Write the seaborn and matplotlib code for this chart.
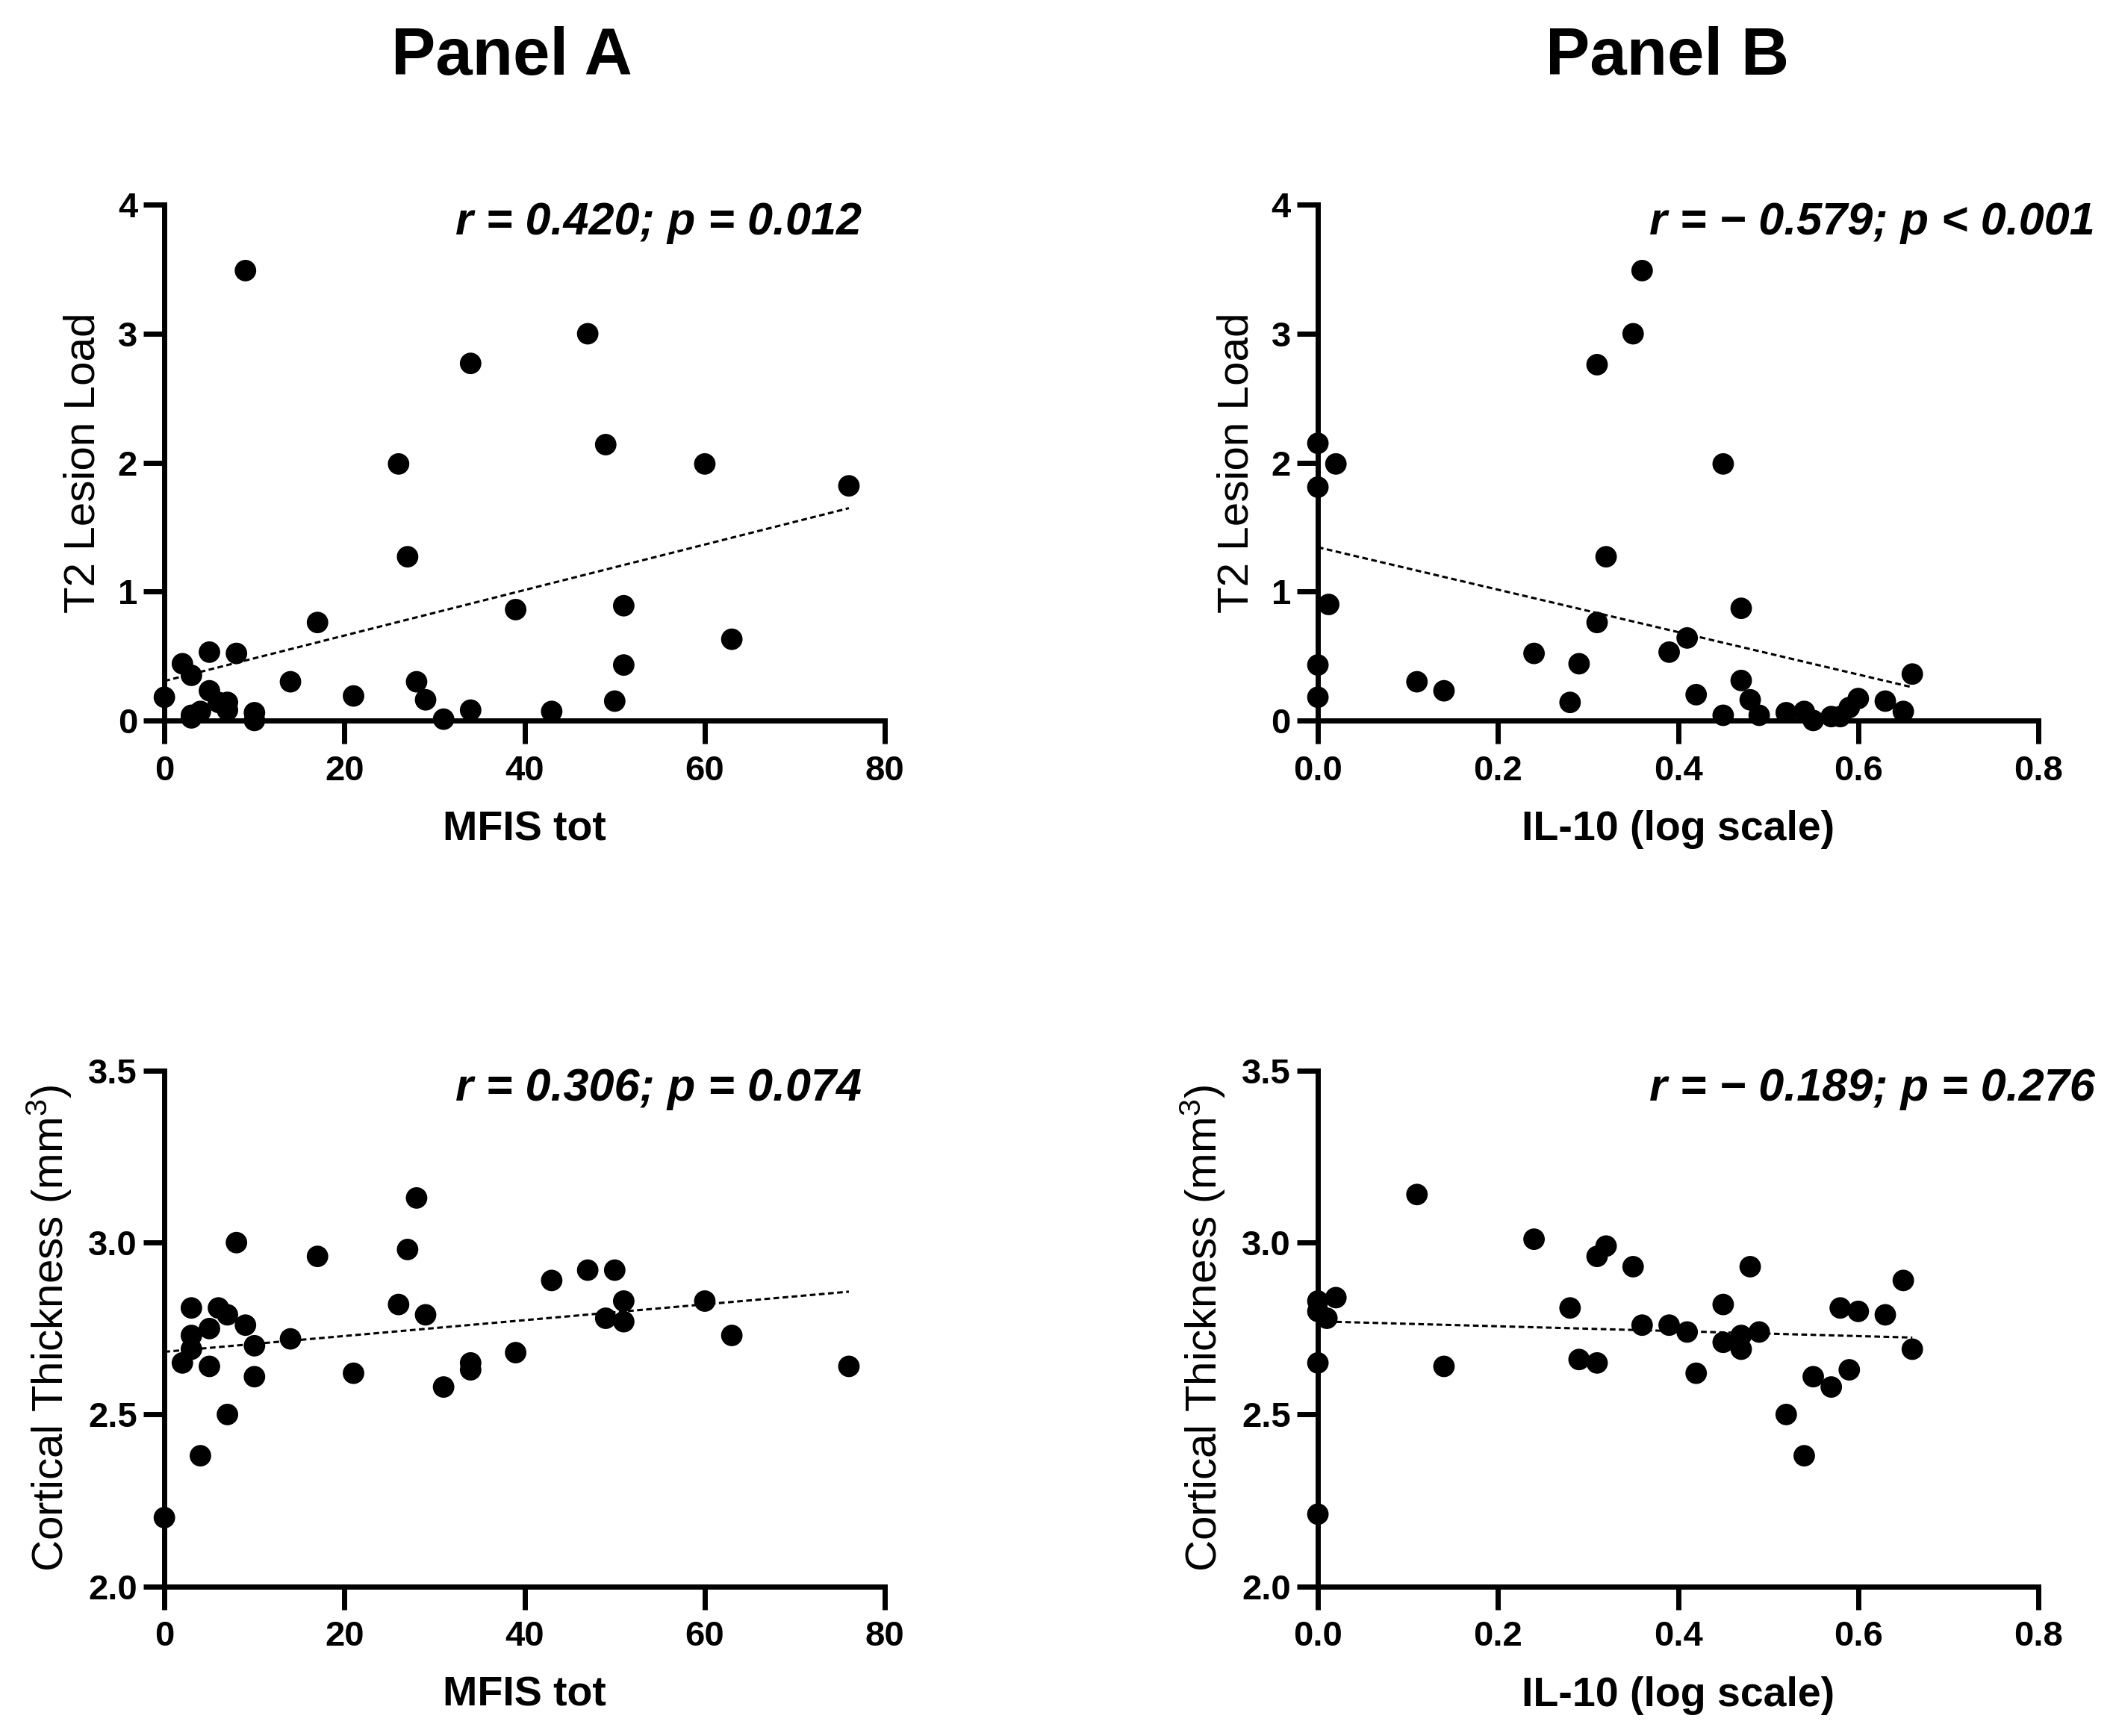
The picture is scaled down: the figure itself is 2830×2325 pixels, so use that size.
import numpy as np
import pandas as pd
import matplotlib
matplotlib.use('Agg')
import matplotlib.pyplot as plt
import seaborn as sns

# Panel A: MFIS tot vs T2 lesion load / cortical thickness
mfis_top = [0, 2, 3, 3, 3, 4, 5, 5, 6, 7, 7, 8, 9, 10, 10, 14, 17, 21, 26, 27,
            28, 29, 31, 34, 34, 39, 43, 47, 49, 50, 51, 51, 60, 63, 76]
t2_a = [0.18, 0.44, 0.35, 0.02, 0.04, 0.07, 0.53, 0.23, 0.14, 0.14, 0.08, 0.52, 3.49, 0.06, 0.0,
        0.30, 0.76, 0.19, 1.99, 1.27, 0.30, 0.16, 0.01, 2.77, 0.08, 0.86, 0.07, 3.0, 2.14, 0.15,
        0.89, 0.43, 1.99, 0.63, 1.82]

mfis_bot = [0, 2, 3, 3, 3, 4, 5, 5, 6, 7, 7, 8, 9, 10, 10, 14, 17, 21, 26, 27,
            28, 29, 31, 34, 34, 39, 43, 47, 49, 50, 51, 51, 60, 63, 76]
ct_a = [2.20, 2.65, 2.81, 2.73, 2.69, 2.38, 2.64, 2.75, 2.81, 2.79, 2.50, 3.00, 2.76, 2.70, 2.61,
        2.72, 2.96, 2.62, 2.82, 2.98, 3.13, 2.79, 2.58, 2.65, 2.63, 2.68, 2.89, 2.92, 2.78, 2.92,
        2.83, 2.77, 2.83, 2.73, 2.64]

# Panel B: IL-10 (log) vs T2 lesion load / cortical thickness
il10_top = [0.0, 0.0, 0.02, 0.012, 0.0, 0.0, 0.11, 0.14, 0.24, 0.28, 0.29, 0.31, 0.31, 0.32,
            0.35, 0.36, 0.39, 0.41, 0.42, 0.45, 0.45, 0.47, 0.47, 0.48, 0.49, 0.52, 0.54, 0.55,
            0.57, 0.58, 0.59, 0.60, 0.63, 0.65, 0.66]
t2_b = [2.15, 1.81, 1.99, 0.90, 0.43, 0.18, 0.30, 0.23, 0.52, 0.14, 0.44, 2.76, 0.76, 1.27,
        3.0, 3.49, 0.53, 0.64, 0.20, 1.99, 0.04, 0.87, 0.31, 0.16, 0.04, 0.06, 0.07, 0.0,
        0.03, 0.03, 0.10, 0.17, 0.15, 0.07, 0.36]

il10_bot = [0.0, 0.0, 0.0, 0.0, 0.01, 0.02, 0.11, 0.14, 0.24, 0.28, 0.29, 0.31, 0.31, 0.32,
            0.35, 0.36, 0.39, 0.41, 0.42, 0.45, 0.45, 0.47, 0.47, 0.48, 0.49, 0.52, 0.54, 0.55,
            0.57, 0.58, 0.59, 0.60, 0.63, 0.65, 0.66]
ct_b = [2.21, 2.65, 2.83, 2.80, 2.78, 2.84, 3.14, 2.64, 3.01, 2.81, 2.66, 2.65, 2.96, 2.99,
        2.93, 2.76, 2.76, 2.74, 2.62, 2.82, 2.71, 2.73, 2.69, 2.93, 2.74, 2.50, 2.38, 2.61,
        2.58, 2.81, 2.63, 2.80, 2.79, 2.89, 2.69]

stats = ['r = 0.420; p = 0.012', 'r = \u2212 0.579; p < 0.001',
         'r = 0.306; p = 0.074', 'r = \u2212 0.189; p = 0.276']

sns.set_style('ticks')
plt.rcParams['font.family'] = ['Liberation Sans', 'DejaVu Sans']
plt.rcParams['mathtext.default'] = 'regular'
for k in ['text.color', 'axes.labelcolor', 'xtick.color', 'ytick.color', 'axes.edgecolor']:
    plt.rcParams[k] = 'black'

fig = plt.figure(figsize=(28.3, 23.25), dpi=100)

W, H = 0.341, 0.297
positions = [(0.0778, 0.585), (0.6237, 0.585), (0.0778, 0.0862), (0.6237, 0.0862)]
panels = [
    (mfis_top, t2_a, 'MFIS tot', 'T2 Lesion Load', (0, 80, 20), (0, 4, 1), '{:.0f}', '{:.0f}', 0.968),
    (il10_top, t2_b, 'IL-10 (log scale)', 'T2 Lesion Load', (0, 0.8, 0.2), (0, 4, 1), '{:.1f}', '{:.0f}', 1.078),
    (mfis_bot, ct_a, 'MFIS tot', 'Cortical Thickness (mm$^3$)', (0, 80, 20), (2.0, 3.5, 0.5), '{:.0f}', '{:.1f}', 0.968),
    (il10_bot, ct_b, 'IL-10 (log scale)', 'Cortical Thickness (mm$^3$)', (0, 0.8, 0.2), (2.0, 3.5, 0.5), '{:.1f}', '{:.1f}', 1.078),
]

for i, (pos, p) in enumerate(zip(positions, panels)):
    x, y, xlab, ylab, xr, yr, xf, yf, tx = p
    ax = fig.add_axes([pos[0], pos[1], W, H])
    df = pd.DataFrame({'x': x, 'y': y})
    sns.regplot(data=df, x='x', y='y', ax=ax, ci=None, color='black',
                scatter_kws={'s': 430, 'edgecolor': 'none', 'clip_on': False, 'zorder': 5, 'alpha': 1},
                line_kws={'linestyle': (0, (2.5, 1.5)), 'linewidth': 2.2, 'color': 'black'})
    ax.set_xlim(xr[0], xr[1])
    ax.set_ylim(yr[0], yr[1])
    xt = np.arange(xr[0], xr[1] + xr[2] / 2, xr[2])
    yt = np.arange(yr[0], yr[1] + yr[2] / 2, yr[2])
    ax.set_xticks(xt)
    ax.set_yticks(yt)
    ax.set_xticklabels([xf.format(v) for v in xt], fontsize=34, fontweight='bold')
    ax.set_yticklabels([yf.format(v) for v in yt], fontsize=34, fontweight='bold')
    ax.tick_params(axis='x', direction='out', length=22, width=5, pad=11, colors='black')
    ax.tick_params(axis='y', direction='out', length=20, width=5, pad=6, colors='black')
    sns.despine(ax=ax)
    for s in ['left', 'bottom']:
        ax.spines[s].set_linewidth(5)
        ax.spines[s].set_color('black')
    ax.set_xlabel(xlab, fontsize=40, fontweight='bold', labelpad=22)
    ax.set_ylabel(ylab, fontsize=42, labelpad=14)
    ax.text(tx, 0.965, stats[i], transform=ax.transAxes, ha='right', va='center',
            fontsize=44, fontweight='bold', fontstyle='italic')

fig.text(0.2423, 0.967, 'Panel A', ha='center', va='center', fontsize=64, fontweight='bold')
fig.text(0.789, 0.967, 'Panel B', ha='center', va='center', fontsize=64, fontweight='bold')

fig.savefig('out.png', dpi=100, facecolor='white')
